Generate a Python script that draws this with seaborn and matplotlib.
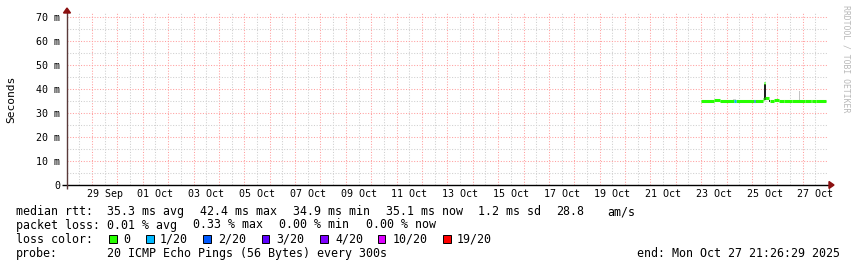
import numpy as np
import pandas as pd
import matplotlib
matplotlib.use("Agg")
import matplotlib.pyplot as plt
import matplotlib.dates as mdates
from matplotlib.patches import Rectangle, Polygon
import seaborn as sns

# ---------------- data ----------------
base_time = "2025-10-23 00:00"
# median RTT segments: hours after base_time, value in ms, packet loss (of 20)
seg_start_h = [0.0, 12.1, 17.8, 31.0, 32.9, 49.9, 50.9, 58.4, 59.4, 60.3,
               65.0, 68.8, 73.6, 78.3, 85.8, 98.1, 103.8, 104.7, 108.5]
seg_end_h = [12.1, 17.8, 31.0, 32.9, 49.9, 50.9, 58.4, 59.4, 60.3, 64.1,
             68.8, 73.6, 78.3, 85.8, 98.1, 103.8, 104.7, 108.5, 118.0]
seg_median_ms = [35.1, 35.5, 34.9, 34.9, 35.1, 35.1, 35.1, 35.9, 42.4, 36.3,
                 34.9, 35.5, 35.1, 34.9, 35.1, 34.9, 35.1, 34.9, 35.1]
seg_loss = [0, 0, 0, 1, 0, 2, 0, 0, 0, 0, 0, 0, 0, 0, 0, 0, 0, 0, 0]

# smoke (spread of individual pings)
smoke_start_h = [30.0, 59.4, 64.1, 92.4]
smoke_end_h = [33.0, 61.3, 65.0, 93.4]
smoke_lo_ms = [35.3, 35.6, 34.6, 35.5]
smoke_hi_ms = [35.9, 42.0, 35.6, 39.2]
smoke_color = ["#d4d4d4", "#1e1e1e", "#2e2e2e", "#c4c4c4"]

loss_labels = ["0", "1/20", "2/20", "3/20", "4/20", "10/20", "19/20"]
loss_colors = ["#26ff00", "#00b8ff", "#0059ff", "#5e00ff", "#7e00ff", "#dd00ff", "#ff0000"]

y_ticks = [0, 10, 20, 30, 40, 50, 60, 70]
y_tick_labels = ["0", "10 m", "20 m", "30 m", "40 m", "50 m", "60 m", "70 m"]
x_tick_labels = ["29 Sep", "01 Oct", "03 Oct", "05 Oct", "07 Oct", "09 Oct", "11 Oct",
                 "13 Oct", "15 Oct", "17 Oct", "19 Oct", "21 Oct", "23 Oct", "25 Oct", "27 Oct"]

rtt_stats = ["35.3 ms avg", "42.4 ms max", "34.9 ms min", "35.1 ms now", "1.2 ms sd", "28.8", "am/s"]
loss_stats = ["0.01 % avg", "0.33 % max", "0.00 % min", "0.00 % now"]
probe_text = "20 ICMP Echo Pings (56 Bytes) every 300s"
end_text = "end: Mon Oct 27 21:26:29 2025"

x_start = "2025-09-28 00:19"
x_end = "2025-10-27 22:58"

# ---------------- figure ----------------
W, H = 857, 267
fig = plt.figure(figsize=(W / 100, H / 100), dpi=100)
plt.rcParams['font.family'] = ['DejaVu Sans Mono']
fig.patch.set_facecolor("white")


def fx(px):
    return px / W


def fy(py):
    return 1 - py / H


ax = fig.add_axes([fx(67), fy(185), 760 / W, 172 / H])
ax.set_facecolor("white")

t0 = pd.Timestamp(base_time)
rows = []
for i, (s, e, m, l) in enumerate(zip(seg_start_h, seg_end_h, seg_median_ms, seg_loss)):
    rows.append(dict(seg=i, time=t0 + pd.Timedelta(hours=s), median=m, loss=loss_labels[l]))
    rows.append(dict(seg=i, time=t0 + pd.Timedelta(hours=e), median=m, loss=loss_labels[l]))
df = pd.DataFrame(rows)

# smoke
sx = [mdates.date2num(t0 + pd.Timedelta(hours=s)) for s in smoke_start_h]
sw = [(e - s) / 24.0 for s, e in zip(smoke_start_h, smoke_end_h)]
sh = [hi - lo for lo, hi in zip(smoke_lo_ms, smoke_hi_ms)]

sns.lineplot(data=df, x="time", y="median", units="seg", estimator=None,
             hue="loss", hue_order=loss_labels,
             palette=dict(zip(loss_labels, loss_colors)),
             linewidth=2.2, legend=False, ax=ax, solid_capstyle="butt", zorder=3)
ax.bar(sx, sh, bottom=smoke_lo_ms, width=sw, align="edge", color=smoke_color,
       linewidth=0, zorder=2)

ax.set_xlim(pd.Timestamp(x_start), pd.Timestamp(x_end))
ax.set_ylim(0, 70 * 172 / 168)

# x ticks: labels at noon, gray grid at noon, red grid at midnight
noons = pd.date_range("2025-09-28 12:00", "2025-10-27 12:00", freq="D")
label_pos = {pd.to_datetime(l + " 2025 12:00", format="%d %b %Y %H:%M"): l for l in x_tick_labels}
ax.set_xticks(noons)
ax.set_xticklabels([label_pos.get(d, "") for d in noons])
midnights = pd.date_range("2025-09-29", "2025-10-27", freq="D")
ax.set_xticks(midnights, minor=True)

ax.set_yticks(y_ticks)
ax.set_yticklabels(y_tick_labels)
ax.set_yticks([5, 15, 25, 35, 45, 55, 65], minor=True)

red = "#ff9f9f"
gray = "#cfcfcf"
dots = (0, (1.0, 1.6))
ax.grid(which="major", axis="x", color=gray, linestyle=dots, linewidth=0.75)
ax.grid(which="minor", axis="x", color=red, linestyle=dots, linewidth=0.75)
ax.grid(which="major", axis="y", color=red, linestyle=dots, linewidth=0.75)
ax.grid(which="minor", axis="y", color=gray, linestyle=dots, linewidth=0.75)
ax.set_axisbelow(True)

ax.tick_params(axis="both", which="both", length=0, labelsize=7.2, colors="#000000")
ax.tick_params(axis="x", pad=3)
ax.tick_params(axis="y", pad=5)
for sp in ax.spines.values():
    sp.set_visible(False)
ax.set_xlabel("")
ax.set_ylabel("")

# axis lines with arrows
ax.plot([(62 - 67) / 760, (830 - 67) / 760], [0, 0], color="#000000", lw=1.0,
        transform=ax.transAxes, clip_on=False, zorder=5, solid_capstyle="butt")
ax.plot([0, 0], [(185 - 189) / 172, (185 - 11) / 172], color="#5a3a3a", lw=1.0,
        transform=ax.transAxes, clip_on=False, zorder=5, solid_capstyle="butt")
arrow_c = "#8b1010"
fig.patches.append(Polygon([(fx(829), fy(181.5)), (fx(829), fy(188.5)), (fx(834), fy(185))],
                           closed=True, transform=fig.transFigure, color=arrow_c, zorder=6))
fig.patches.append(Polygon([(fx(63.5), fy(13)), (fx(70.5), fy(13)), (fx(67), fy(8))],
                           closed=True, transform=fig.transFigure, color=arrow_c, zorder=6))

# axis label and watermark
fig.text(fx(11), fy(99), "Seconds", rotation=90, ha="center", va="center", fontsize=8.1,
         color="#000000")
fig.text(fx(846), fy(5), "RRDTOOL / TOBI OETIKER", rotation=270, ha="center", va="top",
         fontsize=5.9, color="#b8b8b8")

# legend
fs = 8.4
y1, y2, y3, y4 = 211.7, 225.0, 239.3, 253.3
fig.text(fx(16), fy(y1), "median rtt:", fontsize=fs, va="center")
for xp, s in zip([107.3, 200.0, 293.3, 386.0, 478.3, 556.5, 607.3], rtt_stats):
    fig.text(fx(xp), fy(y1), s, fontsize=fs, va="center")
fig.text(fx(16), fy(y2), "packet loss:", fontsize=fs, va="center")
for xp, s in zip([107.3, 193.3, 279.3, 365.7], loss_stats):
    fig.text(fx(xp), fy(y2), s, fontsize=fs, va="center")
fig.text(fx(16), fy(y3), "loss color:", fontsize=fs, va="center")
box_x = [109.0, 146.0, 203.3, 261.7, 320.0, 377.7, 443.3]
lab_x = [123.3, 160.0, 218.3, 276.7, 335.0, 392.7, 457.0]
for bx, lx, lab, col in zip(box_x, lab_x, loss_labels, loss_colors):
    fig.patches.append(Rectangle((fx(bx), fy(y3 + 4)), 7.5 / W, 8 / H,
                                 transform=fig.transFigure, facecolor=col,
                                 edgecolor="#000000", linewidth=0.7))
    fig.text(fx(lx), fy(y3), lab, fontsize=fs, va="center")
fig.text(fx(16), fy(y4), "probe:", fontsize=fs, va="center")
fig.text(fx(107.3), fy(y4), probe_text, fontsize=fs, va="center")
fig.text(fx(840), fy(y4), end_text, fontsize=fs, va="center", ha="right")

fig.savefig("out.png", dpi=100, facecolor="white")
